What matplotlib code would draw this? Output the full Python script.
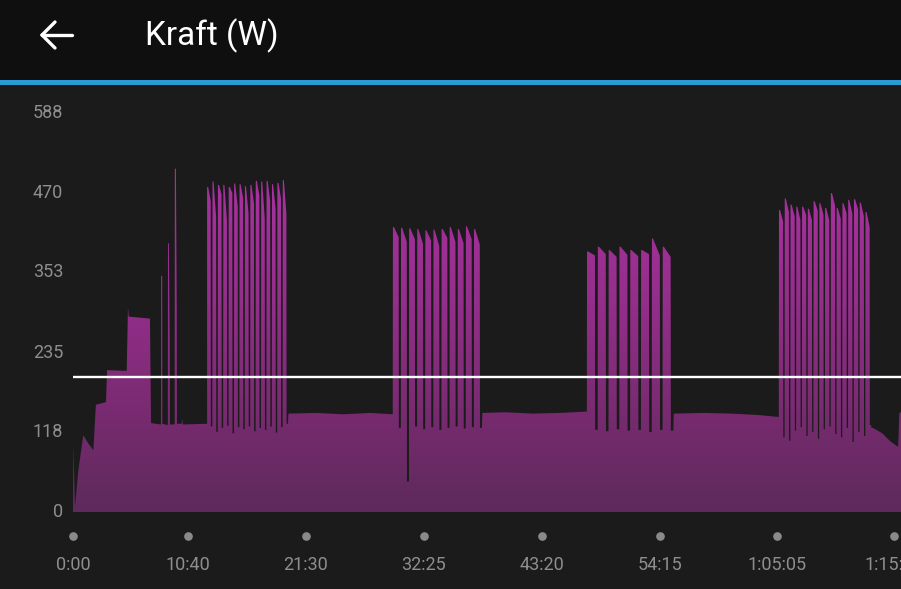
import matplotlib
matplotlib.use("Agg")
import matplotlib.pyplot as plt
import numpy as np
from matplotlib.patches import Rectangle, PathPatch
from matplotlib.lines import Line2D
from matplotlib.colors import LinearSegmentedColormap
from matplotlib.transforms import blended_transform_factory

# ---- data (seconds, watts) ----
warmup_sec = [0, 2, 11, 30, 57, 85, 113, 127, 183, 189, 298, 305, 309, 427, 433,
              488, 489, 495, 496, 526, 527, 532, 537, 538, 564, 565, 571, 576, 577,
              603, 606, 609, 744]
warmup_watt = [0, 99, 8, 62, 113, 101, 91, 158, 162, 209, 208, 302, 288, 285, 131,
               129, 348, 348, 130, 128, 396, 396, 239, 129, 129, 506, 506, 293, 130,
               130, 138, 129, 130]

block_start = [744, 1775, 2852, 3917]
block_cycle = [30, 45, 60, 32]
block_on = [21, 33, 45, 24]

block1_peaks = [479, 487, 482, 482, 479, 484, 483, 480, 482, 488, 487, 488, 483, 485, 489]
block1_holds = [458, 435, 468, 430, 470, 450, 462, 440, 455, 466, 432, 458, 447, 462, 440]
block1_lows = [126, 118, 124, 127, 116, 125, 122, 126, 119, 124, 121, 126, 117, 125, 130]

block2_peaks = [420, 419, 418, 417, 415, 416, 417, 420, 417, 421, 417]
block2_holds = [405, 398, 402, 395, 400, 392, 404, 398, 396, 402, 394]
block2_lows = [124, 45, 126, 122, 125, 121, 124, 126, 123, 125, 124]

block3_peaks = [384, 391, 386, 391, 386, 386, 403, 391]
block3_holds = [378, 380, 376, 379, 377, 380, 378, 376]
block3_lows = [121, 119, 122, 120, 121, 118, 121, 120]

block4_peaks = [445, 462, 453, 450, 450, 447, 458, 455, 448, 470, 448, 455, 460, 461, 456, 442]
block4_holds = [428, 442, 436, 430, 438, 430, 444, 438, 430, 452, 432, 440, 440, 446, 436, 420]
block4_lows = [110, 105, 120, 125, 112, 118, 108, 122, 126, 115, 110, 124, 103, 118, 112, 128]

rest12_sec = [1195, 1350, 1500, 1650, 1774]
rest12_watt = [145, 146, 144, 146, 144]
rest23_sec = [2271, 2400, 2550, 2700, 2851]
rest23_watt = [146, 147, 145, 146, 148]
rest34_sec = [3333, 3500, 3650, 3800, 3916]
rest34_watt = [145, 146, 145, 143, 140]
tail_sec = [4430, 4438, 4490, 4535, 4578, 4585, 4594]
tail_watt = [124, 124, 116, 104, 96, 146, 147]

avg_watt = 199

ytick_vals = [0, 118, 235, 353, 470, 588]
xtick_labels = ["0:00", "10:40", "21:30", "32:25", "43:20", "54:15", "1:05:05", "1:15:55"]


def to_sec(label):
    sec = 0
    for part in label.split(":"):
        sec = sec * 60 + int(part)
    return sec


def add_block(ts, ws, start, cycle, on, peaks, holds, lows):
    # each work bar: peak at its start, easing down to the hold level, then the short rest
    for i, (p, h, lo) in enumerate(zip(peaks, holds, lows)):
        t0 = start + i * cycle
        ts += [t0, t0 + 6, t0 + on - 1, t0 + on, t0 + cycle - 1]
        ws += [p, p, h, lo, lo]


t = list(warmup_sec)
w = list(warmup_watt)
blocks = [(block1_peaks, block1_holds, block1_lows),
          (block2_peaks, block2_holds, block2_lows),
          (block3_peaks, block3_holds, block3_lows),
          (block4_peaks, block4_holds, block4_lows)]
rests = [(rest12_sec, rest12_watt), (rest23_sec, rest23_watt),
         (rest34_sec, rest34_watt), (tail_sec, tail_watt)]
for i, (pk, hd, lw) in enumerate(blocks):
    add_block(t, w, block_start[i], block_cycle[i], block_on[i], pk, hd, lw)
    t += rests[i][0]
    w += rests[i][1]

W, H = 901, 589
def fx(px):
    return px / W
def fy(py):
    return 1 - py / H

fig = plt.figure(figsize=(W / 100, H / 100), dpi=100)
fig.patch.set_facecolor("#1b1b1b")

# header bar
fig.add_artist(Rectangle((0, fy(80)), 1, 80 / H, transform=fig.transFigure,
                         facecolor="#0f0f0f", edgecolor="none"))
fig.add_artist(Rectangle((0, fy(85)), 1, 5 / H, transform=fig.transFigure,
                         facecolor="#2a9bd4", edgecolor="none"))
for x2, y2 in [(72, 35), (55, 22), (55, 48)]:
    fig.add_artist(Line2D([fx(42), fx(x2)], [fy(35), fy(y2)], transform=fig.transFigure,
                          color="white", lw=2.4, solid_capstyle="round"))
fig.text(fx(145), fy(36), "Kraft (W)", color="white", fontsize=24,
         family="Roboto", va="center", ha="left")

# chart
xmax = 4594
ax = fig.add_axes([fx(73), (H - 512) / H, 1 - fx(73), (512 - 113) / H])
ax.set_facecolor("#1b1b1b")
ax.set_xlim(0, xmax)
ax.set_ylim(0, 588)
for s in ax.spines.values():
    s.set_visible(False)
ax.set_xticks([])
ax.set_yticks([])

cmap = LinearSegmentedColormap.from_list(
    "kraft", [(0, "#5d2a5b"), (0.255, "#792b71"), (0.51, "#922e89"),
              (0.816, "#a8319f"), (1, "#b033a6")])
grad = np.linspace(0, 1, 256).reshape(-1, 1)
im = ax.imshow(grad, extent=[0, xmax, 0, 588], origin="lower", aspect="auto",
               cmap=cmap, zorder=1)
area = ax.fill_between(t, w, 0, facecolor="none", edgecolor="none")
clip = PathPatch(area.get_paths()[0], transform=ax.transData,
                 facecolor="none", edgecolor="none")
ax.add_patch(clip)
im.set_clip_path(clip)

ax.axhline(avg_watt, color="white", lw=1.7, zorder=3)

ytrans = blended_transform_factory(fig.transFigure, ax.transData)
for v in ytick_vals:
    ax.text(fx(63), v, str(v), transform=ytrans, ha="right", va="center",
            color="#8e8e8e", fontsize=13, family="Roboto")

xtrans = blended_transform_factory(ax.transData, fig.transFigure)
for lab in xtick_labels:
    sx = to_sec(lab)
    ax.plot([sx], [fy(536)], "o", color="#8a8a8a", markersize=5.2,
            transform=xtrans, clip_on=False)
    ax.text(sx, fy(565), lab, transform=xtrans, ha="center", va="center",
            color="#8e8e8e", fontsize=13, family="Roboto")

fig.savefig("out.png", dpi=100, facecolor=fig.get_facecolor())
